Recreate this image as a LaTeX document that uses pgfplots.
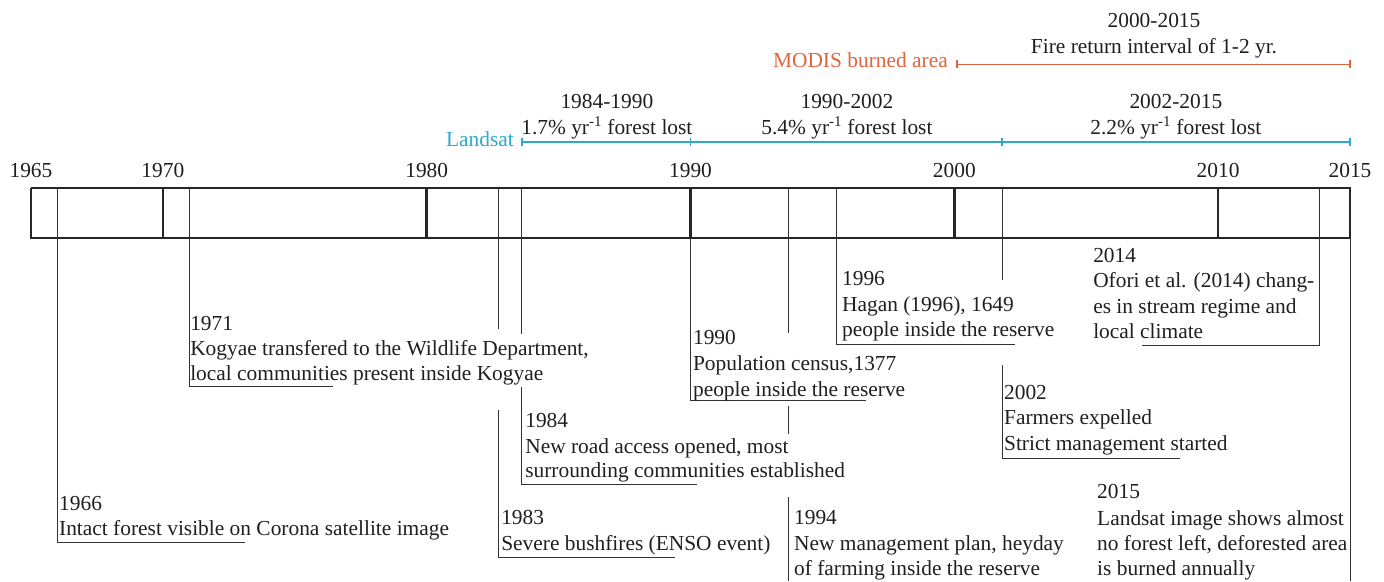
\documentclass[border=0pt]{standalone}
\usepackage{pgfplots}
\pgfplotsset{compat=1.18}
\usepackage{fontspec}
\setmainfont{Liberation Serif}
\definecolor{modis}{HTML}{E0643C}
\definecolor{lsat}{HTML}{2EA8CC}
\begin{document}
\begin{tikzpicture}[every node/.style={font=\fontsize{21.4bp}{25bp}\selectfont, inner sep=0pt, text=black!88}]
\begin{axis}[
  scale only axis, width=1384bp, height=581bp,
  xmin=1963.825, xmax=2016.289, ymin=0, ymax=581, y dir=reverse,
  hide axis, clip=false]
\addplot[draw=none, forget plot] coordinates {(1963.825,0) (2016.289,581)};
% main bar
\addplot[line width=2.7bp, black!85] coordinates {(1965,188) (2015,188) (2015,238) (1965,238) (1965,188)};
\foreach \yr in {1970,1980,1990,2000,2010}{
  \edef\tmp{\noexpand\addplot[line width=2.7bp, black!85] coordinates {(\yr,188) (\yr,238)};}\tmp
}
% year labels
\foreach \yr in {1965,1970,1980,1990,2000,2010,2015}{
  \edef\tmp{\noexpand\node[anchor=base] at (axis cs:\yr,177) {\yr};}\tmp
}
% event lines
\addplot[line width=1bp, black!80] coordinates {(1966.0,188) (1966.0,542) (1973.11,542)};
\addplot[line width=1bp, black!80] coordinates {(1971.0,188) (1971.0,386) (1976.45,386)};
\addplot[line width=1bp, black!80] coordinates {(1982.74,188) (1982.74,329)};
\addplot[line width=1bp, black!80] coordinates {(1982.74,410) (1982.74,557) (1989.41,557)};
\addplot[line width=1bp, black!80] coordinates {(1983.61,188) (1983.61,334)};
\addplot[line width=1bp, black!80] coordinates {(1983.61,387) (1983.61,484) (1990.25,484)};
\addplot[line width=1bp, black!80] coordinates {(1990.0,238) (1990.0,400) (1996.65,400)};
\addplot[line width=1bp, black!80] coordinates {(1993.70,188) (1993.70,333)};
\addplot[line width=1bp, black!80] coordinates {(1993.70,406) (1993.70,434)};
\addplot[line width=1bp, black!80] coordinates {(1993.70,497) (1993.70,581)};
\addplot[line width=1bp, black!80] coordinates {(1995.55,188) (1995.55,344) (2002.30,344)};
\addplot[line width=1bp, black!80] coordinates {(2001.81,188) (2001.81,280)};
\addplot[line width=1bp, black!80] coordinates {(2001.81,365) (2001.81,458) (2008.56,458)};
\addplot[line width=1bp, black!80] coordinates {(2013.83,188) (2013.83,345) (2007.12,345)};
\addplot[line width=1bp, black!80] coordinates {(2015,238) (2015,581)};
% event texts
\node[anchor=base west] at (axis cs:1966.06,510) {1966};
\node[anchor=base west] at (axis cs:1966.06,535) {Intact forest visible on Corona satellite image};
\node[anchor=base west] at (axis cs:1971.03,330) {1971};
\node[anchor=base west] at (axis cs:1971.03,355) {Kogyae transfered to the Wildlife Department,};
\node[anchor=base west] at (axis cs:1971.03,380) {local communities present inside Kogyae};
\node[anchor=base west] at (axis cs:1982.82,524) {1983};
\node[anchor=base west] at (axis cs:1982.82,550) {Severe bushfires (ENSO event)};
\node[anchor=base west] at (axis cs:1983.73,427) {1984};
\node[anchor=base west] at (axis cs:1983.73,453) {New road access opened, most};
\node[anchor=base west] at (axis cs:1983.73,477) {surrounding communities established};
\node[anchor=base west] at (axis cs:1990.09,344) {1990};
\node[anchor=base west] at (axis cs:1990.09,370) {Population census,1377};
\node[anchor=base west] at (axis cs:1990.09,396) {people inside the reserve};
\node[anchor=base west] at (axis cs:1993.92,524) {1994};
\node[anchor=base west] at (axis cs:1993.92,550) {New management plan, heyday};
\node[anchor=base west] at (axis cs:1993.92,575) {of farming inside the reserve};
\node[anchor=base west] at (axis cs:1995.74,285) {1996};
\node[anchor=base west] at (axis cs:1995.74,311) {Hagan (1996), 1649};
\node[anchor=base west] at (axis cs:1995.74,336) {people inside the reserve};
\node[anchor=base west] at (axis cs:2001.88,399) {2002};
\node[anchor=base west] at (axis cs:2001.88,424) {Farmers expelled};
\node[anchor=base west] at (axis cs:2001.88,450) {Strict management started};
\node[anchor=base west] at (axis cs:2005.26,262) {2014};
\node[anchor=base west] at (axis cs:2005.26,287) {Ofori et al. (2014) chang-};
\node[anchor=base west] at (axis cs:2005.26,313) {es in stream regime and};
\node[anchor=base west] at (axis cs:2005.26,338) {local climate};
\node[anchor=base west] at (axis cs:2005.41,498) {2015};
\node[anchor=base west] at (axis cs:2005.41,525) {Landsat image shows almost};
\node[anchor=base west] at (axis cs:2005.41,550) {no forest left, deforested area};
\node[anchor=base west] at (axis cs:2005.41,575) {is burned annually};
% MODIS
\addplot[line width=1.8bp, modis] coordinates {(2000.1,64.5) (2015,64.5)};
\addplot[line width=1.5bp, modis] coordinates {(2000.1,60.5) (2000.1,68.5)};
\addplot[line width=1.5bp, modis] coordinates {(2015,60.5) (2015,68.5)};
\node[anchor=base east, text=modis] at (axis cs:1999.76,68) {MODIS burned area};
\node[anchor=base] at (axis cs:2007.57,28) {2000-2015};
\node[anchor=base] at (axis cs:2007.57,54) {Fire return interval of 1-2 yr.};
% Landsat
\addplot[line width=1.8bp, lsat] coordinates {(1983.61,142) (2015,142)};
\foreach \yr in {1983.61,1990,2001.81,2015}{
  \edef\tmp{\noexpand\addplot[line width=1.5bp, lsat] coordinates {(\yr,138) (\yr,146)};}\tmp
}
\node[anchor=base east, text=lsat] at (axis cs:1983.31,146) {Landsat};
\node[anchor=base] at (axis cs:1986.83,108) {1984-1990};
\node[anchor=base] at (axis cs:1986.83,134) {1.7\% yr\textsuperscript{-1} forest lost};
\node[anchor=base] at (axis cs:1995.93,108) {1990-2002};
\node[anchor=base] at (axis cs:1995.93,134) {5.4\% yr\textsuperscript{-1} forest lost};
\node[anchor=base] at (axis cs:2008.40,108) {2002-2015};
\node[anchor=base] at (axis cs:2008.40,134) {2.2\% yr\textsuperscript{-1} forest lost};
\end{axis}
\end{tikzpicture}
\end{document}
